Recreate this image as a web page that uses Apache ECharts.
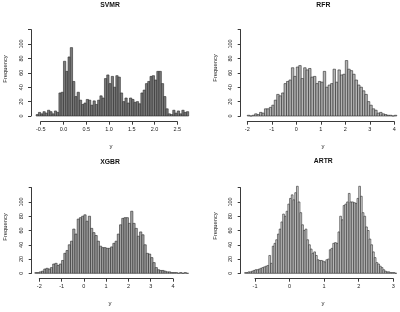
<!DOCTYPE html>
<html><head><meta charset="utf-8">
<script src="https://cdn.jsdelivr.net/npm/echarts@6/dist/echarts.min.js"></script>
<style>html,body{margin:0;padding:0;background:#fff}#c{width:400px;height:312px}</style>
</head><body><div id="c"></div>
<script>
// ---------------- DATA ----------------
const titles = ['SVMR', 'RFR', 'XGBR', 'ARTR'];
const yAxisTitle = 'Frequency';
const xAxisTitle = 'y';
const yTicks = [0, 20, 40, 60, 80, 100, 120];

// SVMR histogram: bins of 0.05 starting at -0.6
const svmrStart = -0.6, svmrBin = 0.05;
const svmrCounts = [2,5,3,6,4,8,6,3,7,5, 32,33,76,62,82,95,48,27,33,22, 16,18,23,22,15,21,16,22,28,25,
  52,57,45,55,40,56,54,32,20,25, 18,25,23,19,20,17,32,36,45,48, 55,56,50,62,62,45,27,10,3,2, 8,4,7,3,8,5,6];
const svmrXTicks = [-0.5, 0.0, 0.5, 1.0, 1.5, 2.0, 2.5];

// RFR histogram: bins of 0.1 starting at -2.0
const rfrStart = -2.0, rfrBin = 0.1;
const rfrCounts = [1,0,1,3,2,5,4,10,10,12, 15,22,30,28,32,45,48,50,67,55, 68,70,52,67,64,66,54,55,45,48,
  47,62,40,43,45,65,47,64,57,58, 77,65,63,58,50,43,40,35,30,20, 15,10,8,4,5,3,2,1,1,0,1];
const rfrXTicks = [-2, -1, 0, 1, 2, 3, 4];

// XGBR histogram: bins of 0.1 starting at -2.2
const xgbrStart = -2.2, xgbrBin = 0.1;
const xgbrCounts = [1,1,2,3,6,7,6,8,13,14, 11,13,18,28,32,40,45,62,55,76, 78,80,82,73,80,63,57,53,45,38,
  36,36,35,35,37,42,45,55,68,77, 78,78,70,87,70,63,52,58,54,40, 28,27,22,15,8,5,4,4,3,2, 2,1,1,1,0,1,0,1,0];
const xgbrXTicks = [-2, -1, 0, 1, 2, 3, 4];

// ARTR histogram: bins of 0.05 starting at -1.3
const artrStart = -1.3, artrBin = 0.05;
const artrCounts = [1,1,2,2,3,4,5,5,6,7, 8,9,10,11,25,14,38,42,47,55, 62,72,83,80,87,97,105,110,103,113,
  122,100,85,68,60,62,47,40,34,28, 30,25,19,18,18,17,16,19,20,33, 35,42,43,42,58,80,75,95,97,100,
  112,100,100,99,98,105,122,108,85,80, 65,60,48,40,30,22,15,13,10,8, 5,3,2,2,1,1,1,0];
const artrXTicks = [-1, 0, 1, 2, 3];

// ---------------- LAYOUT ----------------
const panels = [
  {name: titles[0], start: svmrStart, bin: svmrBin, counts: svmrCounts, ticks: svmrXTicks, dec: 1,
   fill: '#7a7a7a', axL: 40.7, axR: 177.3, y0: 116, yTop: 29.6, yAxX: 31, xAxY: 121.7,
   tX: 110, tY: 5.5, fX: 5.5, fY: 69, lX: 111, lY: 146},
  {name: titles[1], start: rfrStart, bin: rfrBin, counts: rfrCounts, ticks: rfrXTicks, dec: 0,
   fill: '#b4b4b4', axL: 247.3, axR: 394.3, y0: 116, yTop: 29.6, yAxX: 240.7, xAxY: 121.7,
   tX: 323.3, tY: 5.5, fX: 215, fY: 68, lX: 323, lY: 146},
  {name: titles[2], start: xgbrStart, bin: xgbrBin, counts: xgbrCounts, ticks: xgbrXTicks, dec: 0,
   fill: '#a5a5a5', axL: 39.3, axR: 173, y0: 273.3, yTop: 187.7, yAxX: 31.7, xAxY: 278.7,
   tX: 110, tY: 162, fX: 5.5, fY: 227, lX: 110, lY: 303},
  {name: titles[3], start: artrStart, bin: artrBin, counts: artrCounts, ticks: artrXTicks, dec: 0,
   fill: '#d4d4d4', axL: 255, axR: 393.3, y0: 273.3, yTop: 187.7, yAxX: 240.7, xAxY: 278.7,
   tX: 323.3, tY: 161.5, fX: 215, fY: 226, lX: 323, lY: 303}
];

const FONT = 'Liberation Sans, Arial, sans-serif';
const TXT = '#222';
const AX = '#3a3a3a';

const grid = [], xAxis = [], yAxis = [], series = [], graphic = [];
panels.forEach((p, i) => {
  const tMin = p.ticks[0], tMax = p.ticks[p.ticks.length - 1];
  const ppu = (p.axR - p.axL) / (tMax - tMin);
  const end = p.start + p.bin * p.counts.length;
  const dL = p.axL + (p.start - tMin) * ppu;
  const dR = p.axL + (end - tMin) * ppu;
  const h = p.y0 - p.yTop;
  grid.push({left: dL, top: p.yTop, width: dR - dL, height: h});
  grid.push({left: p.axL, top: p.yTop, width: p.axR - p.axL, height: h});
  const gd = i * 2, ga = i * 2 + 1;
  xAxis.push({gridIndex: gd, type: 'value', min: p.start, max: end, show: false,
    axisLine: {onZero: false}});
  xAxis.push({gridIndex: ga, type: 'value', min: tMin, max: tMax, interval: p.ticks[1] - p.ticks[0],
    position: 'bottom', offset: p.xAxY - p.y0,
    axisLine: {show: true, onZero: false, lineStyle: {color: AX, width: 1}},
    axisTick: {show: true, length: 3, lineStyle: {color: AX, width: 1}},
    axisLabel: {fontSize: 5.5, color: TXT, fontFamily: FONT, margin: 5,
      formatter: v => Number(v).toFixed(p.dec)},
    splitLine: {show: false}});
  yAxis.push({gridIndex: gd, type: 'value', min: yTicks[0], max: yTicks[yTicks.length - 1],
    interval: yTicks[1] - yTicks[0], position: 'left', offset: dL - p.yAxX,
    axisLine: {show: true, onZero: false, lineStyle: {color: AX, width: 1}},
    axisTick: {show: true, length: 3, lineStyle: {color: AX, width: 1}},
    axisLabel: {fontSize: 5.5, color: TXT, fontFamily: FONT, rotate: 90, margin: 7,
      formatter: v => (v === 120 ? '' : String(v))},
    splitLine: {show: false}});
  yAxis.push({gridIndex: ga, type: 'value', min: 0, max: 120, show: false,
    axisLine: {onZero: false}});
  const data = p.counts.map((c, k) => [p.start + k * p.bin, p.start + (k + 1) * p.bin, c]);
  series.push({
    type: 'custom', xAxisIndex: gd, yAxisIndex: gd, data: data,
    encode: {x: [0, 1], y: 2}, silent: true, animation: false,
    renderItem: (params, api) => {
      const a = api.coord([api.value(0), 0]);
      const b = api.coord([api.value(1), api.value(2)]);
      return {type: 'rect',
        shape: {x: a[0], y: b[1], width: b[0] - a[0], height: a[1] - b[1]},
        style: {fill: p.fill, stroke: '#2a2a2a', lineWidth: 0.6}};
    }
  });
  graphic.push({type: 'text', x: p.tX, y: p.tY, style: {text: p.name, font: 'bold 6.8px ' + FONT,
    fill: '#111', textAlign: 'center', textVerticalAlign: 'middle'}});
  graphic.push({type: 'text', x: p.fX, y: p.fY, rotation: Math.PI / 2, style: {text: yAxisTitle,
    font: '5.8px ' + FONT, fill: TXT, textAlign: 'center', textVerticalAlign: 'middle'}});
  graphic.push({type: 'text', x: p.lX, y: p.lY, style: {text: xAxisTitle,
    font: '6px ' + FONT, fill: TXT, textAlign: 'center', textVerticalAlign: 'middle'}});
});

const chart = echarts.init(document.getElementById('c'), null, {renderer: 'canvas'});
chart.setOption({animation: false, backgroundColor: '#fff', grid, xAxis, yAxis, series, graphic});
</script>
</body></html>
